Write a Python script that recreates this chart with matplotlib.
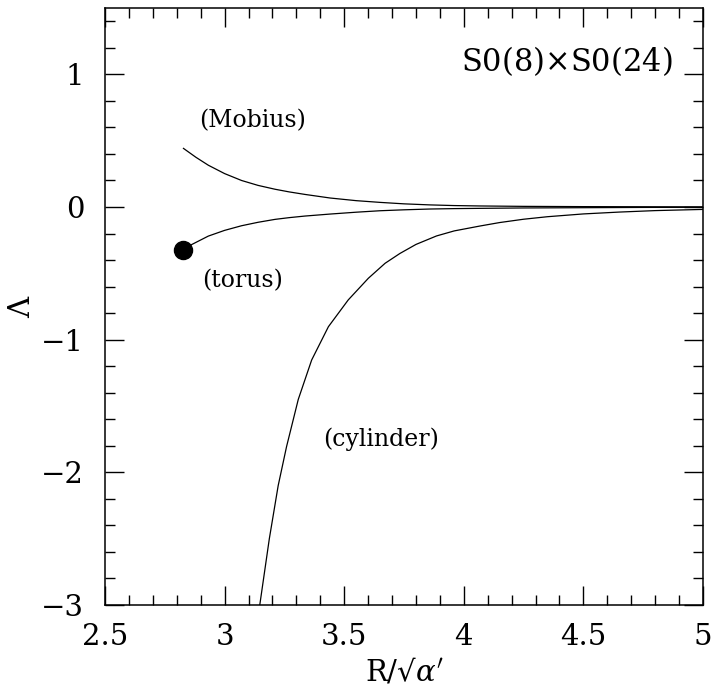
import matplotlib
matplotlib.use("Agg")
import matplotlib.pyplot as plt
from matplotlib.ticker import MultipleLocator

# curves
mobius_x = [2.828, 2.88, 2.932, 3.0, 3.071, 3.14, 3.211, 3.27, 3.336, 3.441, 3.55, 3.65, 3.75,
            3.859, 3.96, 4.068, 4.25, 4.5, 4.75, 5.0]
mobius_y = [0.442, 0.375, 0.315, 0.252, 0.2, 0.163, 0.134, 0.114, 0.095, 0.068, 0.048, 0.035, 0.024,
            0.016, 0.011, 0.008, 0.005, 0.003, 0.002, 0.001]

torus_x = [2.828, 2.86, 2.932, 3.0, 3.071, 3.14, 3.211, 3.27, 3.336, 3.441, 3.55, 3.65, 3.75,
           3.859, 3.96, 4.068, 4.25, 4.5, 4.75, 5.0]
torus_y = [-0.324, -0.285, -0.219, -0.176, -0.141, -0.115, -0.093, -0.08, -0.068, -0.053, -0.039, -0.028, -0.021,
           -0.015, -0.012, -0.01, -0.007, -0.005, -0.003, -0.002]

cyl_x = [3.147, 3.187, 3.224, 3.259, 3.308, 3.364, 3.434, 3.517, 3.601, 3.671, 3.733, 3.8, 3.886,
         3.96, 4.068, 4.15, 4.25, 4.35, 4.5, 4.65, 4.8, 5.0]
cyl_y = [-3.0, -2.5, -2.1, -1.806, -1.45, -1.153, -0.902, -0.70, -0.537, -0.424, -0.35, -0.282, -0.218,
         -0.18, -0.143, -0.117, -0.092, -0.073, -0.052, -0.038, -0.027, -0.018]

# end point of the torus branch
dot_x = [2.828]
dot_y = [-0.324]

labels = ["(Mobius)", "(torus)", "(cylinder)"]
label_x = [3.115, 3.073, 3.654]
label_y = [0.648, -0.558, -1.748]

plt.rcParams["font.family"] = "DejaVu Serif"
plt.rcParams["mathtext.fontset"] = "dejavuserif"

fig = plt.figure(figsize=(7.11, 6.98), dpi=100)
ax = fig.add_axes([0.1477, 0.1332, 0.9887 - 0.1477, 0.9885 - 0.1332])

ax.plot(mobius_x, mobius_y, color="black", lw=0.9)
ax.plot(torus_x, torus_y, color="black", lw=0.9)
ax.plot(cyl_x, cyl_y, color="black", lw=0.9)
ax.plot(dot_x, dot_y, "o", color="black", markersize=13, zorder=5)

for txt, lx, ly in zip(labels, label_x, label_y):
    ax.text(lx, ly, txt, fontsize=17, ha="center", va="center")

ax.text(4.43, 1.1, r"S0(8)$\times$S0(24)", fontsize=22, ha="center", va="center")

ax.set_xlim(2.5, 5)
ax.set_ylim(-3, 1.5)
ax.xaxis.set_major_locator(MultipleLocator(0.5))
ax.xaxis.set_minor_locator(MultipleLocator(0.1))
ax.yaxis.set_major_locator(MultipleLocator(1))
ax.yaxis.set_minor_locator(MultipleLocator(0.2))
ax.xaxis.set_major_formatter(plt.FuncFormatter(lambda v, p: f"{v:g}"))
ax.yaxis.set_major_formatter(plt.FuncFormatter(lambda v, p: f"{v:g}".replace("-", "\u2212")))

ax.tick_params(which="both", direction="in", top=True, right=True, width=1.0, labelsize=21)
ax.tick_params(which="major", length=13.5)
ax.tick_params(which="minor", length=7)
ax.tick_params(axis="y", which="major", pad=15)
ax.tick_params(axis="x", which="major", pad=13)
for s in ax.spines.values():
    s.set_linewidth(1.1)

ax.set_xlabel("R/\u221a$\\alpha'$", fontsize=21, labelpad=4)
ax.set_ylabel(r"$\Lambda$", fontsize=21, labelpad=4)

fig.savefig("out.png", dpi=100)
